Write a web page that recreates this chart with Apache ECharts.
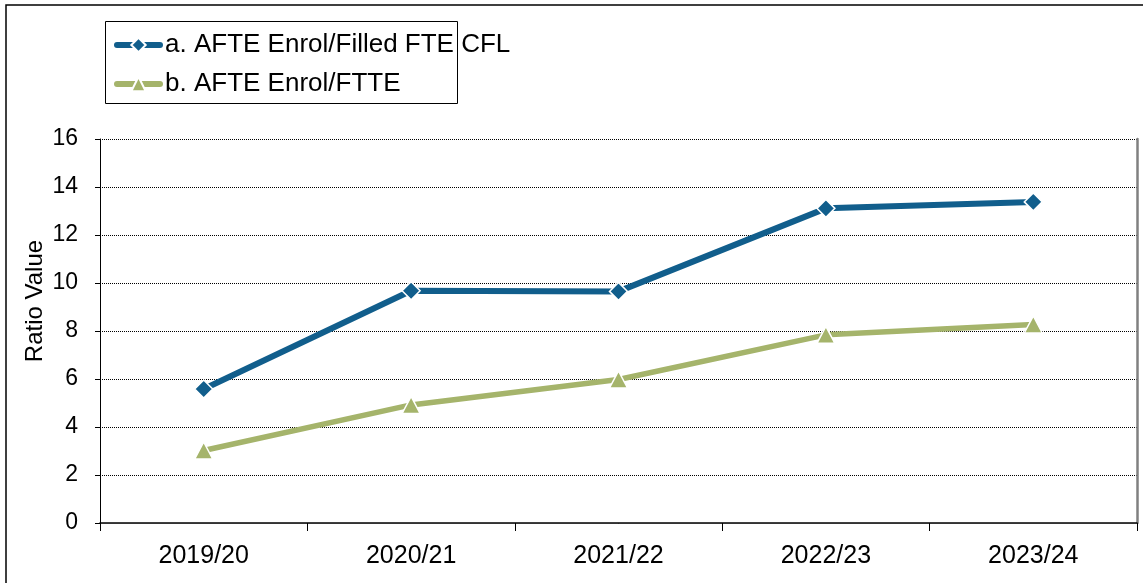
<!DOCTYPE html>
<html>
<head>
<meta charset="utf-8">
<script src="https://cdn.jsdelivr.net/npm/echarts@6/dist/echarts.min.js"></script>
<style>
html,body{margin:0;padding:0;background:#fff;}
#chart{width:1143px;height:583px;}
</style>
</head>
<body>
<div id="chart"></div>
<script>
var categories = ['2019/20', '2020/21', '2021/22', '2022/23', '2023/24'];
var seriesAName = 'a. AFTE Enrol/Filled FTE CFL';
var seriesBName = 'b. AFTE Enrol/FTTE';
var seriesA = [5.58, 9.68, 9.65, 13.11, 13.38];
var seriesB = [3.02, 4.92, 5.98, 7.84, 8.27];
var yTicks = [0, 2, 4, 6, 8, 10, 12, 14, 16];
var yAxisTitle = 'Ratio Value';

var FONT = '"Liberation Sans", Arial, sans-serif';
var BLUE = '#115E8C';
var GREEN = '#A5B46B';

var chart = echarts.init(document.getElementById('chart'), null, {renderer: 'canvas'});
chart.setOption({
  backgroundColor: '#ffffff',
  animation: false,
  textStyle: {fontFamily: FONT},
  grid: {left: 100, right: 6, top: 139, bottom: 60, containLabel: false},
  legend: {
    orient: 'vertical',
    left: 109,
    top: 27,
    itemWidth: 43,
    itemHeight: 18,
    itemGap: 13,
    lineStyle: {width: 6, cap: 'round'},
    textStyle: {fontFamily: FONT, fontSize: 26, color: '#000'},
    data: [seriesAName, seriesBName]
  },
  xAxis: [{
    type: 'category',
    data: categories,
    boundaryGap: true,
    axisLine: {lineStyle: {color: '#000', width: 1.5}},
    axisTick: {show: true, length: 8, lineStyle: {color: '#000'}},
    axisLabel: {fontFamily: FONT, fontSize: 25, color: '#000', margin: 21},
    splitLine: {show: false}
  }, {
    type: 'category',
    position: 'top',
    data: categories,
    axisLine: {lineStyle: {color: '#333', width: 1}},
    axisTick: {show: false},
    axisLabel: {show: false}
  }],
  yAxis: [{
    type: 'value',
    min: yTicks[0],
    max: yTicks[yTicks.length - 1],
    interval: 2,
    axisLine: {show: true, lineStyle: {color: '#000', width: 1}},
    axisTick: {show: true, length: 5, inside: false, lineStyle: {color: '#000'}},
    axisLabel: {fontFamily: FONT, fontSize: 23, color: '#000', margin: 22},
    splitLine: {show: true, lineStyle: {color: '#000', type: [1, 1], width: 1}}
  }, {
    type: 'value',
    position: 'right',
    min: yTicks[0],
    max: yTicks[yTicks.length - 1],
    interval: 2,
    axisLine: {show: true, lineStyle: {color: '#808080', width: 2.5}},
    axisTick: {show: false},
    axisLabel: {show: false},
    splitLine: {show: false}
  }],
  series: [{
    name: seriesAName,
    type: 'line',
    data: seriesA,
    symbol: 'diamond',
    symbolSize: [18, 18],
    showAllSymbol: true,
    lineStyle: {color: BLUE, width: 6, cap: 'round'},
    itemStyle: {color: BLUE, borderColor: '#fff', borderWidth: 1.5},
    z: 3
  }, {
    name: seriesBName,
    type: 'line',
    data: seriesB,
    symbol: 'triangle',
    symbolSize: [18, 17],
    showAllSymbol: true,
    lineStyle: {color: GREEN, width: 5.5, cap: 'round'},
    itemStyle: {color: GREEN, borderColor: '#fff', borderWidth: 1.5},
    z: 2
  }],
  graphic: [{
    type: 'rect',
    shape: {x: 6, y: 5, width: 1150, height: 600},
    style: {fill: 'none', stroke: '#000', lineWidth: 1.5},
    silent: true,
    z: -1
  }, {
    type: 'rect',
    shape: {x: 105.5, y: 21.5, width: 352, height: 82},
    style: {fill: 'none', stroke: '#000', lineWidth: 1},
    silent: true,
    z: -1
  }, {
    type: 'text',
    x: 35,
    y: 301,
    rotation: Math.PI / 2,
    style: {text: yAxisTitle, font: '24px ' + FONT, fill: '#000', align: 'center', verticalAlign: 'middle'},
    silent: true
  }]
});
</script>
</body>
</html>
